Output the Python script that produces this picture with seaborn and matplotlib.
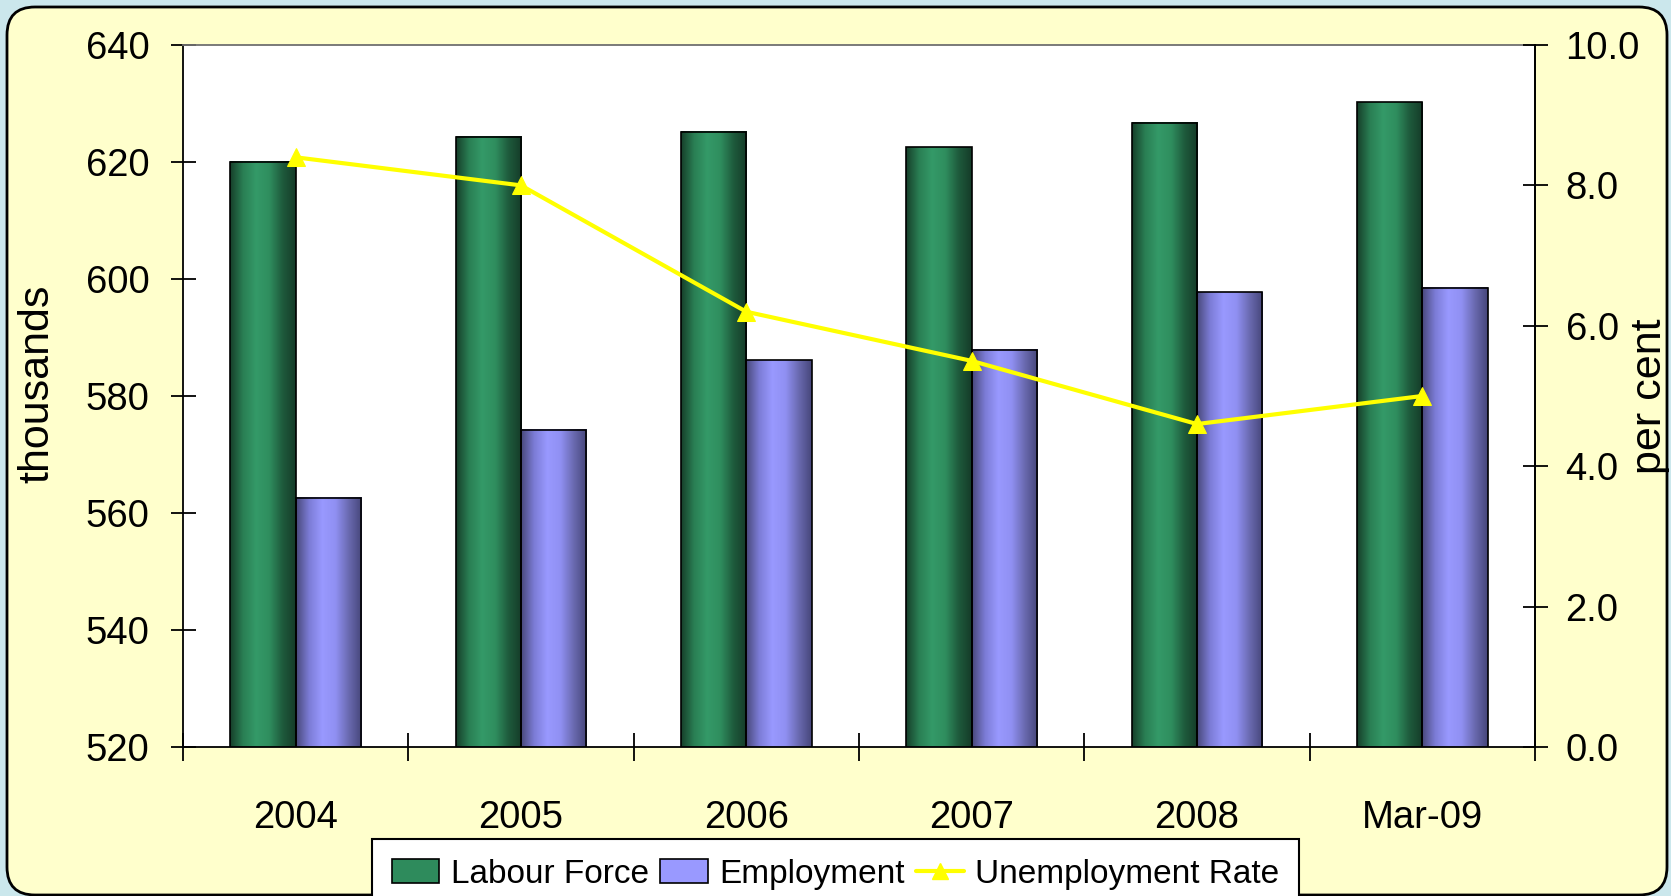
import numpy as np
import pandas as pd
import matplotlib.pyplot as plt
import seaborn as sns
from matplotlib.colors import LinearSegmentedColormap
from matplotlib.patches import FancyBboxPatch, Patch
from matplotlib.lines import Line2D
from matplotlib.ticker import FormatStrFormatter

years = ["2004", "2005", "2006", "2007", "2008", "Mar-09"]
labour_force = [620.0, 624.3, 625.2, 622.5, 626.7, 630.2]
employment = [562.6, 574.2, 586.1, 587.9, 597.7, 598.5]
unemployment_rate = [8.4, 8.0, 6.2, 5.5, 4.6, 5.0]

GREEN = "#2E8B5C"
BLUE = "#9999FF"
YELLOW = "#FFFF00"

green_cmap = LinearSegmentedColormap.from_list(
	"green_bar", ["#163F2A", "#2A7F54", "#349A68", "#2F8D5E", "#1E5A3C", "#153B28"])
blue_cmap = LinearSegmentedColormap.from_list(
	"blue_bar", ["#48487A", "#7C7CD6", "#9999FF", "#9090F2", "#6A6AB0", "#46467A"])


def shade_bars(ax) -> None:
	# paint each bar with a horizontal gradient, keep the black outline on top
	grad = np.linspace(0, 1, 256).reshape(1, -1)
	for p in list(ax.patches):
		fc = p.get_facecolor()
		is_green = fc[1] > fc[2]
		x0, w, h = p.get_x(), p.get_width(), p.get_height()
		ax.imshow(
			grad,
			cmap=green_cmap if is_green else blue_cmap,
			extent=(x0, x0 + w, 0, h),
			aspect="auto",
			interpolation="bicubic",
			zorder=2
		)
		p.set_facecolor("none")
		p.set_zorder(3)


def main():
	sns.set_theme(style="white")
	plt.rcParams["font.family"] = ["Liberation Sans", "DejaVu Sans"]
	for key in ["text.color", "axes.labelcolor", "xtick.color", "ytick.color"]:
		plt.rcParams[key] = "black"

	df = pd.DataFrame({
		"year": years * 2,
		"series": ["Labour Force"] * len(years) + ["Employment"] * len(years),
		"value": labour_force + employment
	})

	fig = plt.figure(figsize=(16.71, 8.96), dpi=100, facecolor="#CBE7EC")
	panel = FancyBboxPatch(
		(7, 1), 1660, 888,
		boxstyle="round,pad=0,rounding_size=28",
		transform=None, facecolor="#FFFFCC", edgecolor="black", linewidth=2, zorder=-1
	)
	fig.add_artist(panel)

	ax = fig.add_axes([0.1095, 0.1663, 0.8091, 0.7835])
	ax.set_facecolor("white")
	sns.barplot(
		data=df, x="year", y="value", hue="series",
		palette=[GREEN, BLUE], saturation=1, width=0.58,
		edgecolor="black", linewidth=1.2, legend=False, ax=ax
	)
	shade_bars(ax)
	ax.set_xlim(-0.5, len(years) - 0.5)
	ax.set_ylim(520, 640)
	ax.set_yticks(range(520, 641, 20))
	ax.set_xlabel("")
	ax.set_ylabel("thousands", fontsize=31)
	ax.yaxis.set_label_coords(-0.093, 0.517)
	ax.set_xticks(np.arange(-0.5, len(years), 1), minor=True)
	ax.tick_params(axis="x", which="major", length=0, pad=38, labelsize=27.5)
	ax.tick_params(axis="x", which="minor", length=20, width=1.3, direction="inout", color="black", bottom=True)
	ax.tick_params(axis="y", which="major", length=18, width=1.3, direction="inout", pad=15, labelsize=27.5, left=True)
	for side in ["left", "bottom", "right"]:
		ax.spines[side].set_color("black")
		ax.spines[side].set_linewidth(1.3)
	ax.spines["top"].set_color("#707070")
	ax.spines["top"].set_linewidth(1.3)

	ax2 = ax.twinx()
	sns.lineplot(
		x=np.arange(len(years)), y=unemployment_rate, ax=ax2,
		color=YELLOW, linewidth=3, marker="^", markersize=13,
		markeredgecolor=YELLOW, zorder=5
	)
	ax2.set_xlim(-0.5, len(years) - 0.5)
	ax2.set_ylim(0, 10)
	ax2.set_yticks(np.arange(0, 10.1, 2))
	ax2.yaxis.set_major_formatter(FormatStrFormatter("%.1f"))
	ax2.tick_params(axis="y", length=18, width=1.3, direction="inout", pad=13, labelsize=27.5, right=True)
	ax2.set_ylabel("per cent", fontsize=31, labelpad=-7)
	for side in ["left", "bottom", "top"]:
		ax2.spines[side].set_visible(False)
	ax2.spines["right"].set_color("black")
	ax2.spines["right"].set_linewidth(1.3)
	ax2.grid(False)
	ax.grid(False)

	handles = [
		Patch(facecolor=GREEN, edgecolor="black", linewidth=1.2),
		Patch(facecolor=BLUE, edgecolor="black", linewidth=1.2),
		Line2D([], [], color=YELLOW, linewidth=3, marker="^", markersize=11, markeredgecolor=YELLOW)
	]
	leg = fig.legend(
		handles, ["Labour Force", "Employment", "Unemployment Rate"],
		loc="upper center", bbox_to_anchor=(0.5, 0.064), ncol=3, borderaxespad=0,
		fontsize=24, handlelength=1.42, handleheight=0.75, handletextpad=0.35,
		columnspacing=0.35, borderpad=0.6, fancybox=False, framealpha=1,
		facecolor="white", edgecolor="black"
	)
	leg.get_frame().set_linewidth(1.5)

	fig.savefig("out.png", dpi=100, facecolor=fig.get_facecolor())
	plt.close(fig)


if __name__ == "__main__":
	main()
